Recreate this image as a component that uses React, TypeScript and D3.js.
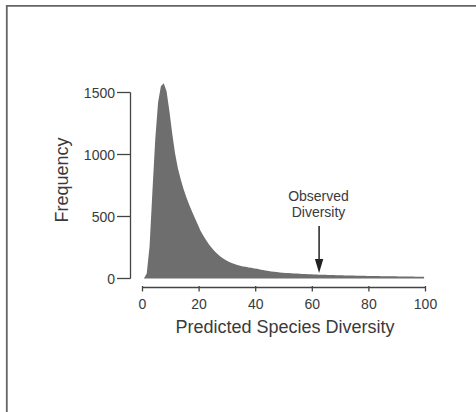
import React from "react";
import { scaleLinear, area, curveLinear } from "d3";

// histogram bin centres (unit-wide bins) and their counts
const binMids = [
  0.5, 1.5, 2.5, 3.5, 4.5, 5.5, 6.5, 7.5, 8.5, 9.5,
  10.5, 11.5, 12.5, 13.5, 14.5, 15.5, 16.5, 17.5, 18.5, 19.5,
  20.5, 21.5, 22.5, 23.5, 24.5, 25.5, 26.5, 27.5, 28.5, 29.5,
  30.5, 31.5, 32.5, 33.5, 34.5, 35.5, 36.5, 37.5, 38.5, 39.5,
  40.5, 41.5, 42.5, 43.5, 44.5, 45.5, 46.5, 47.5, 48.5, 49.5,
  50.5, 51.5, 52.5, 53.5, 54.5, 55.5, 56.5, 57.5, 58.5, 59.5,
  60.5, 61.5, 62.5, 63.5, 64.5, 65.5, 66.5, 67.5, 68.5, 69.5,
  70.5, 71.5, 72.5, 73.5, 74.5, 75.5, 76.5, 77.5, 78.5, 79.5,
  80.5, 81.5, 82.5, 83.5, 84.5, 85.5, 86.5, 87.5, 88.5, 89.5,
  90.5, 91.5, 92.5, 93.5, 94.5, 95.5, 96.5, 97.5, 98.5, 99.5,
];
const counts = [
  0, 40, 260, 700, 1120, 1420, 1550, 1575, 1510, 1350,
  1170, 1010, 890, 800, 722, 655, 595, 540, 488, 438,
  385, 345, 308, 275, 245, 219, 197, 178, 162, 148,
  136, 125, 116, 109, 103, 97, 94, 89, 86, 81,
  78, 73, 69, 64, 60, 57, 54, 52, 49, 47,
  45, 44, 42, 41, 40, 38, 37, 36, 35, 34,
  33, 32, 31, 30, 30, 29, 28, 28, 27, 27,
  26, 25, 25, 24, 24, 23, 23, 22, 22, 21,
  21, 20, 20, 20, 19, 19, 19, 18, 18, 18,
  17, 17, 17, 16, 16, 16, 15, 15, 15, 15,
];
const xTicks = [0, 20, 40, 60, 80, 100];
const yTicks = [0, 500, 1000, 1500];
const observed = 62.4;

const font = "'Liberation Sans', Arial, Helvetica, sans-serif";

export default function App() {
  const width = 476;
  const height = 412;
  const x = scaleLinear().domain([0, 100]).range([142.5, 425.5]);
  const y = scaleLinear().domain([0, 1500]).range([278.5, 92.5]);
  const axisY = 287.5;
  const axisX = 130.5;

  const pts = binMids.map((m, i) => ({ m, c: counts[i] }));
  const shape = area<{ m: number; c: number }>()
    .x((d) => x(d.m))
    .y0(y(0))
    .y1((d) => y(d.c))
    .curve(curveLinear);

  const ax = x(observed);

  return (
    <svg
      width={width}
      height={height}
      style={{ position: "absolute", left: 0, top: 0, background: "#fff" }}
      fontFamily={font}
    >
      {/* frame */}
      <path d={`M6.8,${height} V5.8 H${width}`} fill="none" stroke="#666" strokeWidth={1.8} />

      {/* histogram */}
      <path d={shape(pts) ?? ""} fill="#6e6e6e" />

      {/* y axis */}
      <g stroke="#444" strokeWidth={1.3}>
        <line x1={axisX} x2={axisX} y1={y(1500)} y2={y(0)} />
        {yTicks.map((t) => (
          <line key={t} x1={117} x2={axisX} y1={y(t)} y2={y(t)} />
        ))}
      </g>
      {yTicks.map((t) => (
        <text key={t} x={115} y={y(t)} dy="0.36em" textAnchor="end" fontSize={14} fill="#3a3a3a">
          {t}
        </text>
      ))}
      <text
        transform={`translate(68,180) rotate(-90)`}
        textAnchor="middle"
        fontSize={18}
        fill="#3a3a3a"
      >
        Frequency
      </text>

      {/* x axis */}
      <g stroke="#444" strokeWidth={1.3}>
        <line x1={x(0)} x2={x(100)} y1={axisY} y2={axisY} />
        {xTicks.map((t) => (
          <line key={t} x1={x(t)} x2={x(t)} y1={axisY - 1.5} y2={axisY + 4} />
        ))}
      </g>
      {xTicks.map((t) => (
        <text key={t} x={x(t)} y={308.5} textAnchor="middle" fontSize={14} fill="#3a3a3a">
          {t}
        </text>
      ))}
      <text x={285} y={333} textAnchor="middle" fontSize={18} fill="#3a3a3a">
        Predicted Species Diversity
      </text>

      {/* annotation */}
      <text x={318.5} y={200.5} textAnchor="middle" fontSize={14} fill="#3a3a3a">
        Observed
      </text>
      <text x={318.5} y={216.5} textAnchor="middle" fontSize={14} fill="#3a3a3a">
        Diversity
      </text>
      <line x1={ax} x2={ax} y1={226} y2={262} stroke="#222" strokeWidth={1.5} />
      <path d={`M${ax - 4.2},${259} L${ax + 4.2},${259} L${ax},${273} Z`} fill="#222" />
    </svg>
  );
}
